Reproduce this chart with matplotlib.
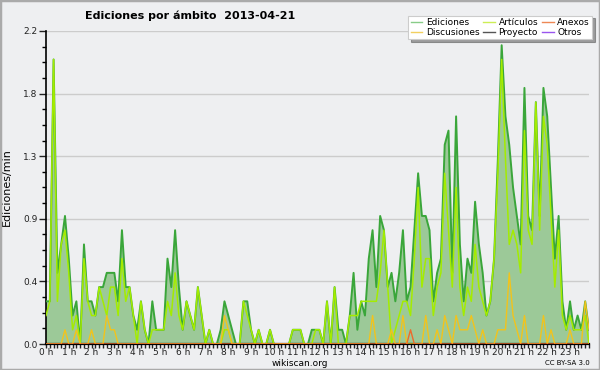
import numpy as np
import matplotlib
matplotlib.use("Agg")
import matplotlib.pyplot as plt
from matplotlib.lines import Line2D
from matplotlib.patches import Rectangle

# edits per minute, one value per 10-minute bin (6 per hour, rows = hours 0..23)
ediciones = [
    0.3, 0.3, 2.0, 0.5, 0.7, 0.9,
    0.6, 0.2, 0.3, 0.0, 0.7, 0.3,
    0.3, 0.2, 0.4, 0.4, 0.5, 0.5,
    0.5, 0.3, 0.8, 0.4, 0.4, 0.2,
    0.1, 0.3, 0.1, 0.0, 0.3, 0.1,
    0.1, 0.1, 0.6, 0.4, 0.8, 0.4,
    0.1, 0.3, 0.2, 0.1, 0.4, 0.2,
    0.0, 0.1, 0.0, 0.0, 0.1, 0.3,
    0.2, 0.1, 0.0, 0.0, 0.3, 0.3,
    0.1, 0.0, 0.1, 0.0, 0.0, 0.1,
    0.0, 0.0, 0.0, 0.0, 0.0, 0.1,
    0.1, 0.1, 0.0, 0.0, 0.1, 0.1,
    0.1, 0.0, 0.3, 0.0, 0.4, 0.1,
    0.1, 0.0, 0.2, 0.5, 0.1, 0.3,
    0.2, 0.6, 0.8, 0.4, 0.9, 0.8,
    0.4, 0.5, 0.3, 0.5, 0.8, 0.3,
    0.4, 0.8, 1.2, 0.9, 0.9, 0.8,
    0.3, 0.5, 0.6, 1.4, 1.5, 0.5,
    1.6, 0.7, 0.3, 0.6, 0.5, 1.0,
    0.7, 0.5, 0.2, 0.3, 0.6, 1.3,
    2.1, 1.6, 1.4, 1.1, 0.9, 0.7,
    1.8, 0.9, 0.8, 1.7, 0.9, 1.8,
    1.6, 1.1, 0.6, 0.9, 0.3, 0.1,
    0.3, 0.1, 0.2, 0.1, 0.3, 0.1,
]
articulos = [
    0.2, 0.3, 2.0, 0.3, 0.7, 0.8,
    0.5, 0.1, 0.2, 0.0, 0.6, 0.3,
    0.2, 0.2, 0.4, 0.3, 0.2, 0.4,
    0.4, 0.2, 0.6, 0.3, 0.4, 0.2,
    0.0, 0.3, 0.1, 0.0, 0.1, 0.1,
    0.1, 0.1, 0.3, 0.2, 0.5, 0.2,
    0.1, 0.3, 0.2, 0.1, 0.4, 0.2,
    0.0, 0.1, 0.0, 0.0, 0.0, 0.1,
    0.1, 0.0, 0.0, 0.0, 0.3, 0.2,
    0.1, 0.0, 0.1, 0.0, 0.0, 0.1,
    0.0, 0.0, 0.0, 0.0, 0.0, 0.1,
    0.1, 0.1, 0.0, 0.0, 0.0, 0.1,
    0.1, 0.0, 0.3, 0.0, 0.4, 0.0,
    0.0, 0.0, 0.2, 0.2, 0.2, 0.3,
    0.3, 0.3, 0.3, 0.3, 0.5, 0.8,
    0.4, 0.0, 0.1, 0.2, 0.3, 0.3,
    0.2, 0.6, 1.1, 0.4, 0.6, 0.6,
    0.2, 0.4, 0.5, 1.2, 0.8, 0.4,
    1.1, 0.4, 0.2, 0.4, 0.3, 0.7,
    0.4, 0.3, 0.2, 0.3, 0.6, 1.2,
    2.0, 1.3, 0.7, 0.8, 0.7, 0.5,
    1.5, 0.8, 0.7, 1.7, 0.8, 1.6,
    1.4, 0.9, 0.4, 0.8, 0.2, 0.1,
    0.2, 0.1, 0.1, 0.1, 0.2, 0.0,
]
discusiones = [
    0.0, 0.0, 0.0, 0.0, 0.0, 0.1,
    0.0, 0.0, 0.1, 0.0, 0.0, 0.0,
    0.1, 0.0, 0.0, 0.0, 0.2, 0.1,
    0.1, 0.0, 0.0, 0.0, 0.0, 0.0,
    0.0, 0.0, 0.0, 0.0, 0.0, 0.0,
    0.0, 0.0, 0.0, 0.0, 0.0, 0.0,
    0.0, 0.0, 0.0, 0.0, 0.0, 0.0,
    0.0, 0.0, 0.0, 0.0, 0.0, 0.2,
    0.1, 0.0, 0.0, 0.0, 0.0, 0.0,
    0.0, 0.0, 0.0, 0.0, 0.0, 0.0,
    0.0, 0.0, 0.0, 0.0, 0.0, 0.0,
    0.0, 0.0, 0.0, 0.0, 0.0, 0.0,
    0.0, 0.0, 0.0, 0.0, 0.0, 0.0,
    0.0, 0.0, 0.0, 0.0, 0.0, 0.0,
    0.0, 0.0, 0.2, 0.0, 0.0, 0.0,
    0.0, 0.1, 0.0, 0.0, 0.2, 0.0,
    0.0, 0.0, 0.0, 0.0, 0.2, 0.0,
    0.0, 0.1, 0.0, 0.2, 0.1, 0.0,
    0.2, 0.1, 0.1, 0.1, 0.2, 0.1,
    0.0, 0.1, 0.0, 0.0, 0.0, 0.1,
    0.1, 0.1, 0.5, 0.2, 0.1, 0.0,
    0.2, 0.0, 0.0, 0.0, 0.0, 0.2,
    0.0, 0.1, 0.0, 0.0, 0.0, 0.0,
    0.1, 0.0, 0.0, 0.0, 0.3, 0.1,
]
anexos = [
    0.0, 0.0, 0.0, 0.0, 0.0, 0.0,
    0.0, 0.0, 0.0, 0.0, 0.0, 0.0,
    0.0, 0.0, 0.0, 0.0, 0.0, 0.0,
    0.0, 0.0, 0.0, 0.0, 0.0, 0.0,
    0.0, 0.0, 0.0, 0.0, 0.0, 0.0,
    0.0, 0.0, 0.0, 0.0, 0.0, 0.0,
    0.0, 0.0, 0.0, 0.0, 0.0, 0.0,
    0.0, 0.0, 0.0, 0.0, 0.0, 0.0,
    0.0, 0.0, 0.0, 0.0, 0.0, 0.0,
    0.0, 0.0, 0.0, 0.0, 0.0, 0.0,
    0.0, 0.0, 0.0, 0.0, 0.0, 0.0,
    0.0, 0.0, 0.0, 0.0, 0.0, 0.0,
    0.0, 0.0, 0.0, 0.0, 0.0, 0.0,
    0.0, 0.0, 0.0, 0.0, 0.0, 0.0,
    0.0, 0.0, 0.0, 0.0, 0.0, 0.0,
    0.0, 0.0, 0.0, 0.0, 0.0, 0.0,
    0.1, 0.0, 0.0, 0.0, 0.0, 0.0,
    0.0, 0.0, 0.0, 0.0, 0.0, 0.0,
    0.0, 0.0, 0.0, 0.0, 0.0, 0.0,
    0.0, 0.0, 0.0, 0.0, 0.0, 0.0,
    0.0, 0.0, 0.0, 0.0, 0.0, 0.0,
    0.0, 0.0, 0.0, 0.0, 0.0, 0.0,
    0.0, 0.0, 0.0, 0.0, 0.0, 0.0,
    0.0, 0.0, 0.0, 0.0, 0.0, 0.0,
]
hours = [f"{h} h" for h in range(24)]
yticks = [0.0, 0.44, 0.88, 1.32, 1.76, 2.2]
ylabels = ["0.0", "0.4", "0.9", "1.3", "1.8", "2.2"]

x = np.arange(len(ediciones)) / 6.0

BG = "#eeeff1"
fig = plt.figure(figsize=(6, 3.7), dpi=100, facecolor=BG)
ax = fig.add_axes([46/600, 26/370, 543/600, 313/370])
ax.set_facecolor(BG)

ax.fill_between(x, ediciones, 0, facecolor="#9cc998", edgecolor="none", zorder=2)
ax.plot(x, ediciones, color="#3aa63a", lw=1.4, zorder=3)
ax.plot(x, articulos, color="#a4ec00", lw=1.1, zorder=4)
ax.plot(x, discusiones, color="#f2c31c", lw=1.0, zorder=5)
ax.plot(x, anexos, color="#ee6a2a", lw=1.0, zorder=6)

ax.set_xlim(0, x[-1])
ax.set_ylim(0, 2.2)
ax.set_yticks(yticks)
ax.set_yticklabels(ylabels)
ax.set_yticks(np.arange(0, 2.21, 0.11), minor=True)
ax.set_xticks(np.arange(24))
ax.set_xticklabels(hours)
ax.set_xticks(x, minor=True)
ax.grid(axis="y", color="#cccccc", lw=1, zorder=1)
ax.set_axisbelow(True)

for s in ["top", "right"]:
    ax.spines[s].set_visible(False)
ax.spines["left"].set_linewidth(1.2)
ax.spines["bottom"].set_linewidth(1.6)
ax.tick_params(axis="y", which="major", length=5, width=1, labelsize=6.5, colors="#222222", pad=1)
ax.tick_params(axis="y", which="minor", length=3, width=1)
ax.tick_params(axis="x", which="both", length=3, width=1, labelsize=6.5, pad=0, colors="#222222")

ax.set_ylabel("Ediciones/min", fontsize=8)
ax.yaxis.set_label_coords(-0.062, 0.5)

fig.text(85/600, 1 - 16/370, "Ediciones por ámbito  2013-04-21", fontsize=8,
         fontweight="bold", ha="left", va="center")
fig.text(300/600, 1 - 363/370, "wikiscan.org", fontsize=6.5, ha="center", va="center")
fig.text(590/600, 1 - 363/370, "CC BY-SA 3.0", fontsize=5, ha="right", va="center")

handles = [
    Line2D([], [], color="#88cc88", lw=1),
    Line2D([], [], color="#f2d060", lw=1),
    Line2D([], [], color="#ccee55", lw=1),
    Line2D([], [], color="#555555", lw=1),
    Line2D([], [], color="#ee8855", lw=1),
    Line2D([], [], color="#9955ee", lw=1),
]
names = ["Ediciones", "Discusiones", "Artículos", "Proyecto", "Anexos", "Otros"]
leg = fig.legend(handles, names, ncol=3, loc="upper right",
                 bbox_to_anchor=(597/600, 1 - 11/370), fontsize=6.5,
                 frameon=True, fancybox=False, shadow=True, framealpha=1,
                 edgecolor="#cccccc", handlelength=1.3, handletextpad=0.4,
                 columnspacing=0.4, labelspacing=0.05, borderpad=0.3)
leg.get_frame().set_linewidth(0.8)

fig.patches.append(Rectangle((0, 0), 1, 1, transform=fig.transFigure,
                             fill=False, edgecolor="#aaaaaa", lw=2.5))

fig.savefig("out.png", dpi=100, facecolor=BG)
